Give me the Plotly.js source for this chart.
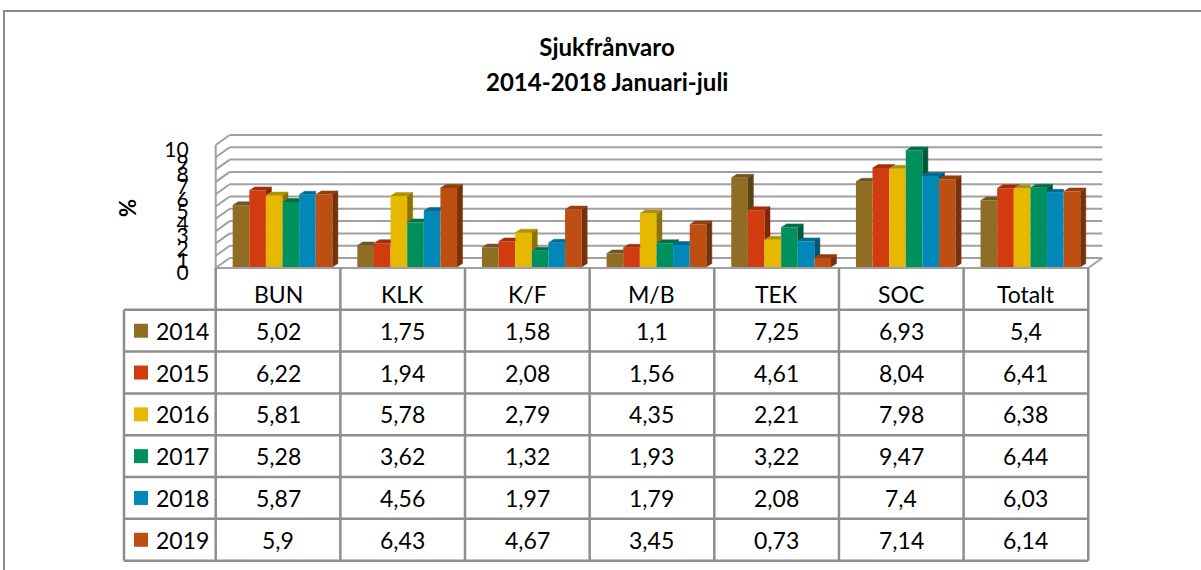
<!DOCTYPE html>
<html>
<head>
<meta charset="utf-8">
<script src="https://cdn.plot.ly/plotly-3.0.1.min.js"></script>
<style>html,body{margin:0;padding:0;background:#fff;}#chart{width:1201px;height:570px;}</style>
</head>
<body>
<div id="chart"></div>
<script>
// ---------- data ----------
const categories = ['BUN', 'KLK', 'K/F', 'M/B', 'TEK', 'SOC', 'Totalt'];
const years = ['2014', '2015', '2016', '2017', '2018', '2019'];
const v2014 = [5.02, 1.75, 1.58, 1.1, 7.25, 6.93, 5.4];
const v2015 = [6.22, 1.94, 2.08, 1.56, 4.61, 8.04, 6.41];
const v2016 = [5.81, 5.78, 2.79, 4.35, 2.21, 7.98, 6.38];
const v2017 = [5.28, 3.62, 1.32, 1.93, 3.22, 9.47, 6.44];
const v2018 = [5.87, 4.56, 1.97, 1.79, 2.08, 7.4, 6.03];
const v2019 = [5.9, 6.43, 4.67, 3.45, 0.73, 7.14, 6.14];
const yTicks = [0, 1, 2, 3, 4, 5, 6, 7, 8, 9, 10];
const titleLine1 = 'Sjukfrånvaro';
const titleLine2 = '2014-2018 Januari-juli';
const yLabel = '%';

// ---------- styles ----------
const seriesValues = [v2014, v2015, v2016, v2017, v2018, v2019];
const colors = ['#8F6D24', '#D13B10', '#E6B800', '#00905E', '#0088B8', '#BE4F12'];
const FONT = 'Lato, Carlito, Calibri, sans-serif';
const W = 1201, H = 570;
const colL = 215.7, colW = 124.65;   // px: left of first category column, column width
const y0 = 267, ppu = 12.3;          // px: bar base, px per percent unit
const wallDx = 14, wallDy = 10;      // 3D wall depth (px)
const barDx = 5.5, barDy = 3.5;      // 3D bar depth (px)
const barShift = 4.5;                // px
const rowTop = 268, rowH = 41.81;    // table rows

const xu = px => -0.5 + (px - colL) / colW;
const yu = py => (y0 - py) / ppu;
const ru = py => (py - rowTop) / rowH - 0.5;
const shade = (hex, f) => {
  const n = parseInt(hex.slice(1), 16);
  const r = Math.round(((n >> 16) & 255) * f), g = Math.round(((n >> 8) & 255) * f), b = Math.round((n & 255) * f);
  return `rgb(${r},${g},${b})`;
};
const fmt = v => String(v).replace('.', ',');

const idx = categories.map((_, i) => i);
const nS = seriesValues.length;
const bw = 0.8 / nS;
const shiftU = barShift / colW;
const ddx = barDx / colW, ddy = barDy / ppu;

const traces = [];
// front faces
seriesValues.forEach((vals, s) => {
  traces.push({
    type: 'bar', x: idx, y: vals, base: 0,
    width: bw, offset: -0.4 + s * bw + shiftU,
    marker: {color: colors[s], line: {width: 0}},
    name: years[s], showlegend: false, hoverinfo: 'y',
    xaxis: 'x', yaxis: 'y'
  });
});
// side and top faces
seriesValues.forEach((vals, s) => {
  const sx = [], sy = [], tx = [], ty = [];
  vals.forEach((v, i) => {
    const xl = i - 0.4 + s * bw + shiftU, xr = xl + bw;
    const next = s < nS - 1 ? seriesValues[s + 1][i] : 0;
    if (v > next) {
      sx.push(xr, xr + ddx, xr + ddx, xr, null);
      sy.push(next, next + ddy, v + ddy, v, null);
      tx.push(xl, xl + ddx, xr + ddx, xr, null);
      ty.push(v, v + ddy, v + ddy, v, null);
    } else {
      tx.push(xl, xl + ddx, xr, xr, null);
      ty.push(v, v + ddy, v + ddy, v, null);
    }
  });
  traces.push({type: 'scatter', mode: 'lines', x: sx, y: sy, fill: 'toself',
    fillcolor: shade(colors[s], 0.62), line: {width: 0.5, color: shade(colors[s], 0.62)},
    hoverinfo: 'skip', showlegend: false, xaxis: 'x', yaxis: 'y'});
  traces.push({type: 'scatter', mode: 'lines', x: tx, y: ty, fill: 'toself',
    fillcolor: shade(colors[s], 0.78), line: {width: 0.5, color: shade(colors[s], 0.78)},
    hoverinfo: 'skip', showlegend: false, xaxis: 'x', yaxis: 'y'});
});
// legend keys in the table
traces.push({
  type: 'scatter', mode: 'markers', xaxis: 'x2', yaxis: 'y2',
  x: years.map(() => xu(141)), y: years.map((_, s) => s + 1),
  marker: {symbol: 'square', size: 14, color: colors, line: {width: 0}},
  hoverinfo: 'skip', showlegend: false, cliponaxis: false
});

// ---------- shapes ----------
const gridC = '#a0a0a0', tableC = '#8e8e8e';
const shapes = [];
const frontY = v => yu(268 - ppu * v), backY = v => yu(268 - wallDy - ppu * v);
const xFL = xu(colL), xBL = xu(colL + wallDx), xFR = xu(colL + colW * categories.length), xBR = xu(colL + colW * categories.length + wallDx);
yTicks.forEach(v => {
  shapes.push({type: 'line', xref: 'x', yref: 'y', layer: 'below', x0: xFL, y0: frontY(v), x1: xBL, y1: backY(v), line: {color: gridC, width: 2}});
  shapes.push({type: 'line', xref: 'x', yref: 'y', layer: 'below', x0: xBL, y0: backY(v), x1: xBR, y1: backY(v), line: {color: gridC, width: 2}});
});
const vMax = yTicks[yTicks.length - 1];
shapes.push({type: 'line', xref: 'x', yref: 'y', layer: 'below', x0: xFL, y0: frontY(0), x1: xFL, y1: frontY(vMax), line: {color: gridC, width: 2}});
shapes.push({type: 'line', xref: 'x', yref: 'y', layer: 'below', x0: xFL, y0: frontY(0), x1: xFR, y1: frontY(0), line: {color: gridC, width: 2}});
shapes.push({type: 'line', xref: 'x', yref: 'y', layer: 'below', x0: xFR, y0: frontY(0), x1: xBR, y1: backY(0), line: {color: gridC, width: 2}});

// table grid
const nRows = years.length + 1;
const legL = xu(124);
for (let r = 0; r < nRows; r++) {
  shapes.push({type: 'line', xref: 'x2', yref: 'y2', x0: legL, x1: categories.length - 0.5, y0: r + 0.5, y1: r + 0.5, line: {color: tableC, width: 2.5}});
}
for (let c = 0; c <= categories.length; c++) {
  shapes.push({type: 'line', xref: 'x2', yref: 'y2', x0: c - 0.5, x1: c - 0.5, y0: -0.5, y1: nRows - 0.5, line: {color: tableC, width: 2.5}});
}
shapes.push({type: 'line', xref: 'x2', yref: 'y2', x0: legL, x1: legL, y0: 0.5, y1: nRows - 0.5, line: {color: tableC, width: 2.5}});
// outer frame
shapes.push({type: 'rect', xref: 'paper', yref: 'paper', x0: 4 / W, x1: 1.02, y0: -0.03, y1: 1 - 11 / H, line: {color: '#8c8c8c', width: 2}});

// ---------- annotations ----------
const tf = {family: FONT, size: 23, color: '#000'};
const annotations = [];
categories.forEach((c, i) => annotations.push({xref: 'x2', yref: 'y2', x: i, y: 0, text: c, showarrow: false, font: tf, yshift: -5, xanchor: 'center', yanchor: 'middle'}));
seriesValues.forEach((vals, s) => {
  annotations.push({xref: 'x2', yref: 'y2', x: xu(182), y: s + 1, text: years[s], showarrow: false, font: tf, xanchor: 'center', yanchor: 'middle'});
  vals.forEach((v, i) => annotations.push({xref: 'x2', yref: 'y2', x: i, y: s + 1, text: fmt(v), showarrow: false, font: tf, xanchor: 'center', yanchor: 'middle'}));
});
annotations.push({xref: 'paper', yref: 'paper', x: 607 / W, y: 1 - 81 / H, xanchor: 'center', yanchor: 'middle', text: '<b>' + titleLine2 + '</b>', showarrow: false, font: {family: FONT, size: 24, color: '#000'}});
annotations.push({xref: 'paper', yref: 'paper', x: 127 / W, y: 1 - 208 / H, xanchor: 'center', yanchor: 'middle', text: '<b>' + yLabel + '</b>', textangle: -90, showarrow: false, font: {family: FONT, size: 22, color: '#000'}});

const xL = colL - 4, xR = 1106;
const layout = {
  width: W, height: H, margin: {l: 0, r: 0, t: 0, b: 0},
  paper_bgcolor: '#fff', plot_bgcolor: 'rgba(0,0,0,0)',
  title: {text: '<b>' + titleLine1 + '</b>', font: {family: FONT, size: 24, color: '#000'}, x: 607 / W, xanchor: 'center', xref: 'paper', y: 1 - 48 / H, yanchor: 'middle', yref: 'container'},
  barmode: 'overlay',
  showlegend: false,
  xaxis: {domain: [xL / W, xR / W], range: [xu(xL), xu(xR)], visible: false, fixedrange: true},
  yaxis: {domain: [1 - 272 / H, 1 - 128 / H], range: [yu(272), yu(128)], tickmode: 'array', tickvals: yTicks, ticktext: yTicks.map(String),
    showgrid: false, zeroline: false, showline: false, ticks: '', tickfont: {family: FONT, size: 21, color: '#000'},
    ticklabelstandoff: 22, ticklabelshift: 6, fixedrange: true},
  xaxis2: {domain: [118 / W, 1094 / W], range: [xu(118), xu(1094)], visible: false, anchor: 'y2', fixedrange: true},
  yaxis2: {domain: [1 - 566 / H, 1 - 264 / H], range: [ru(566), ru(264)], visible: false, anchor: 'x2', fixedrange: true},
  shapes: shapes,
  annotations: annotations
};
Plotly.newPlot('chart', traces, layout, {displayModeBar: false, staticPlot: true});
</script>
</body>
</html>
